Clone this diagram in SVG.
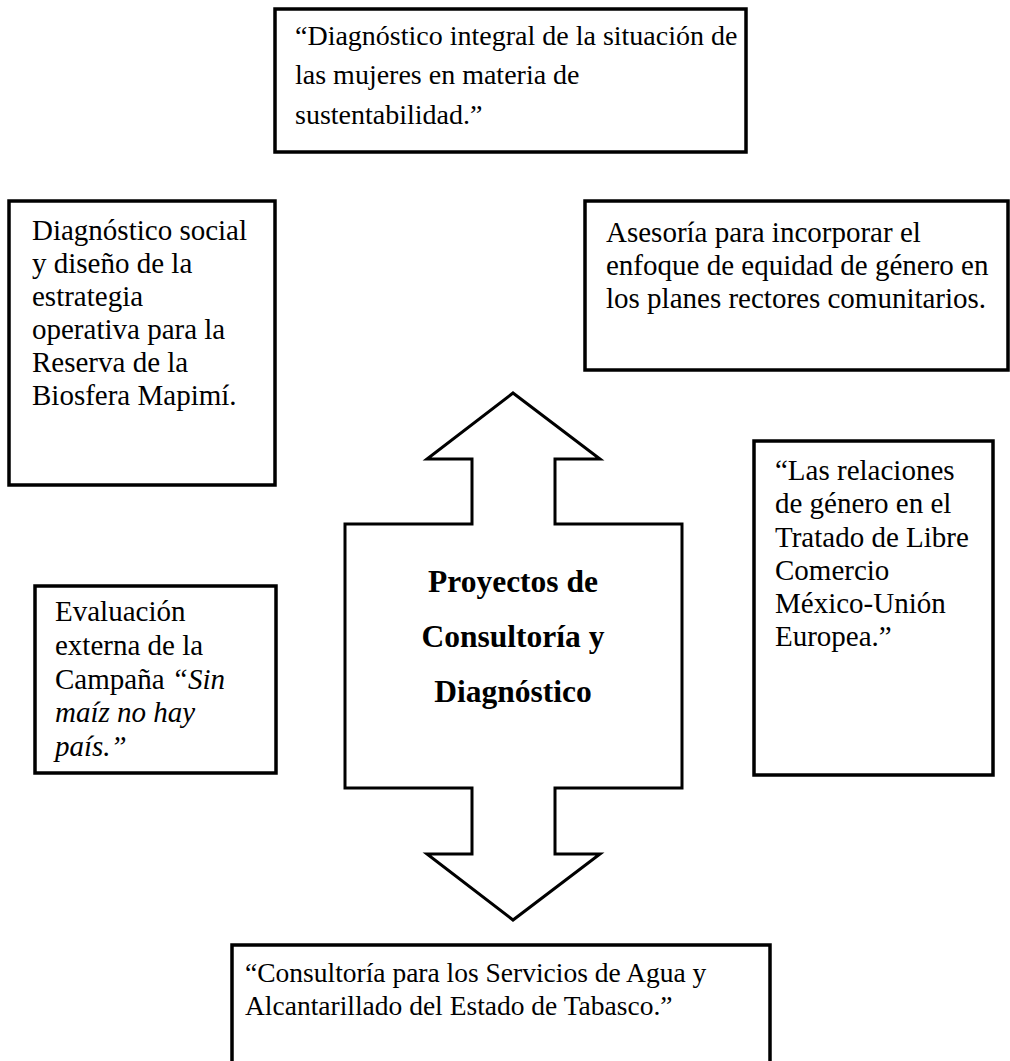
<svg xmlns="http://www.w3.org/2000/svg" width="1010" height="1061" viewBox="0 0 1010 1061">
  <style>
    .box { fill: #ffffff; stroke: #000000; stroke-width: 3.5; }
    .hub { fill: #ffffff; stroke: #000000; stroke-width: 3; stroke-linejoin: miter; }
    .t { font-family: "Liberation Serif", "Times New Roman", serif; font-size: 29px; fill: #000000; }
    .s { font-size: 28px; }
    .xs { font-size: 27.5px; }
    .b { font-weight: bold; text-anchor: middle; font-size: 31.5px; }
    .i { font-style: italic; }
  </style>
  <rect width="1010" height="1061" fill="#ffffff"/>

  <!-- central double arrow -->
  <g id="hub">
    <polygon class="hub" points="513,393 600,459 555,459 555,524 682,524 682,788 555,788 555,854 600,854 513,920 427,854 472,854 472,788 345,788 345,524 472,524 472,459 427,459"/>
    <text class="t b" x="513" y="592">Proyectos de</text>
    <text class="t b" x="513" y="647">Consultoría y</text>
    <text class="t b" x="513" y="702">Diagnóstico</text>
  </g>

  <g id="connectors"></g>

  <g id="diagnostico-integral">
    <rect class="box" x="275" y="9" width="471" height="143"/>
    <text class="t s" x="295" y="45">“Diagnóstico integral de la situación de</text>
    <text class="t s" x="295" y="84">las mujeres en materia de</text>
    <text class="t s" x="295" y="124">sustentabilidad.”</text>
  </g>

  <g id="diagnostico-social">
    <rect class="box" x="9" y="201" width="266" height="284"/>
    <text class="t" x="32" y="240">Diagnóstico social</text>
    <text class="t" x="32" y="273">y diseño de la</text>
    <text class="t" x="32" y="306">estrategia</text>
    <text class="t" x="32" y="339">operativa para la</text>
    <text class="t" x="32" y="372">Reserva de la</text>
    <text class="t" x="32" y="405">Biosfera Mapimí.</text>
  </g>

  <g id="asesoria">
    <rect class="box" x="585" y="201" width="423" height="169"/>
    <text class="t" x="606" y="242">Asesoría para incorporar el</text>
    <text class="t" x="606" y="275">enfoque de equidad de género en</text>
    <text class="t" x="606" y="308">los planes rectores comunitarios.</text>
  </g>

  <g id="relaciones-genero">
    <rect class="box" x="754" y="441" width="239" height="334"/>
    <text class="t" x="775" y="480">“Las relaciones</text>
    <text class="t" x="775" y="513">de género en el</text>
    <text class="t" x="775" y="547">Tratado de Libre</text>
    <text class="t" x="775" y="580">Comercio</text>
    <text class="t" x="775" y="613">México-Unión</text>
    <text class="t" x="775" y="646">Europea.”</text>
  </g>

  <g id="evaluacion">
    <rect class="box" x="35" y="586" width="241" height="187"/>
    <text class="t" x="55" y="621">Evaluación</text>
    <text class="t" x="55" y="655">externa de la</text>
    <text class="t" x="55" y="689">Campaña <tspan class="i">“Sin</tspan></text>
    <text class="t i" x="55" y="722">maíz no hay</text>
    <text class="t i" x="55" y="756">país.”</text>
  </g>

  <g id="consultoria-agua">
    <rect class="box" x="232" y="945" width="538" height="130"/>
    <text class="t xs" x="245" y="982">“Consultoría para los Servicios de Agua y</text>
    <text class="t xs" x="245" y="1015">Alcantarillado del Estado de Tabasco.”</text>
  </g>
</svg>
